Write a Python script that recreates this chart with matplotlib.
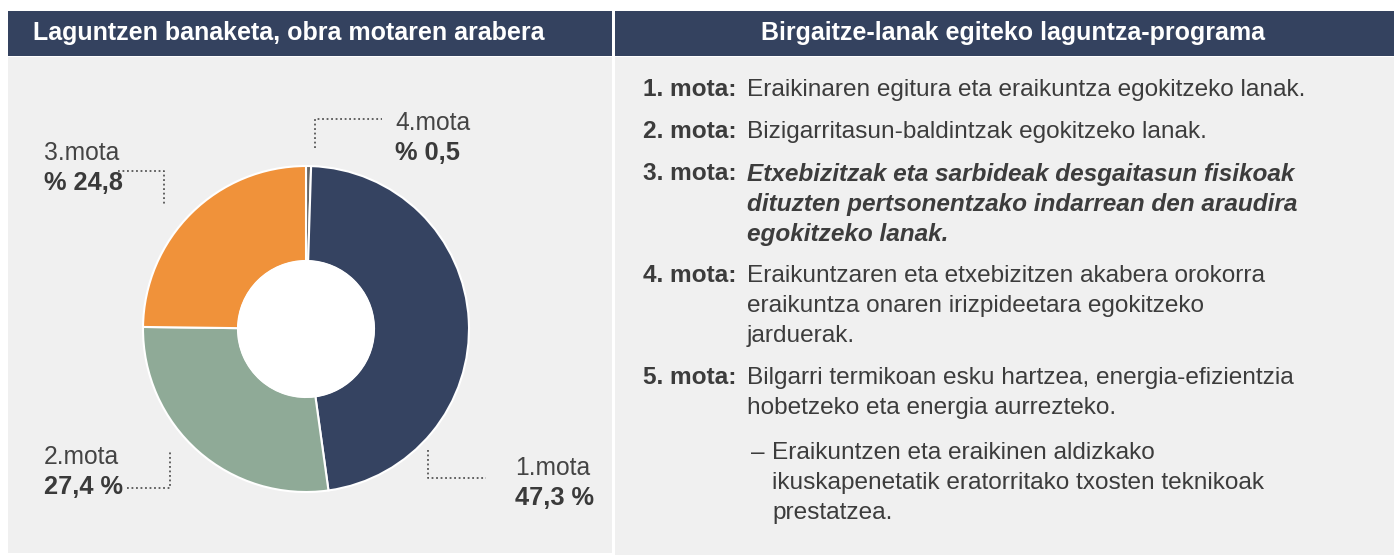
import matplotlib.pyplot as plt
from matplotlib.patches import Rectangle

W, H = 1394, 555

# donut data (clockwise from 12 o'clock)
slices = ['4.mota', '1.mota', '2.mota', '3.mota']
shares = [0.5, 47.3, 27.4, 24.8]
share_labels = ['% 0,5', '47,3 %', '27,4 %', '% 24,8']
colors = ['#666666', '#354361', '#8faa97', '#f0923a']

left_title = 'Laguntzen banaketa, obra motaren arabera'
right_title = 'Birgaitze-lanak egiteko laguntza-programa'

types = ['1. mota:', '2. mota:', '3. mota:', '4. mota:', '5. mota:']
descriptions = [
    ['Eraikinaren egitura eta eraikuntza egokitzeko lanak.'],
    ['Bizigarritasun-baldintzak egokitzeko lanak.'],
    ['Etxebizitzak eta sarbideak desgaitasun fisikoak',
     'dituzten pertsonentzako indarrean den araudira',
     'egokitzeko lanak.'],
    ['Eraikuntzaren eta etxebizitzen akabera orokorra',
     'eraikuntza onaren irizpideetara egokitzeko',
     'jarduerak.'],
    ['Bilgarri termikoan esku hartzea, energia-efizientzia',
     'hobetzeko eta energia aurrezteko.'],
]
sub_item = ['Eraikuntzen eta eraikinen aldizkako',
            'ikuskapenetatik eratorritako txosten teknikoak',
            'prestatzea.']

plt.rcParams['font.family'] = ['Liberation Sans', 'DejaVu Sans']

fig = plt.figure(figsize=(W / 100, H / 100), dpi=100)
ax = fig.add_axes([0, 0, 1, 1])


def Y(py):
    return H - py


navy = '#34425f'
panel = '#f0f0f0'
txt = '#3c3c3c'
body_fs = 17.6

# panels and headers
ax.add_patch(Rectangle((8, Y(553)), 604, 553 - 57, color=panel, lw=0))
ax.add_patch(Rectangle((615, Y(555)), W - 615, 555 - 57, color=panel, lw=0))
ax.add_patch(Rectangle((8, Y(56)), 604, 45, color=navy, lw=0))
ax.add_patch(Rectangle((615, Y(56)), W - 615, 45, color=navy, lw=0))
ax.text(33, Y(33), left_title, color='white', fontsize=18, fontweight='bold',
        va='center', ha='left')
ax.text(1013, Y(33), right_title, color='white', fontsize=18, fontweight='bold',
        va='center', ha='center')

# donut
cx, cy, r_out, r_in = 306, Y(329), 163, 68
ax.pie(shares, colors=colors, startangle=90, counterclock=False,
       center=(cx, cy), radius=r_out,
       wedgeprops=dict(width=r_out - r_in, edgecolor='white', linewidth=1.5))
ax.add_patch(plt.Circle((cx, cy), r_in, color='white', zorder=3))

# labels with dotted leaders
lab_pos = {
    '4.mota': (395, 123, 153),
    '1.mota': (515, 468, 498),
    '2.mota': (44, 457, 487),
    '3.mota': (44, 153, 183),
}
for name, val in zip(slices, share_labels):
    x, y1, y2 = lab_pos[name]
    ax.text(x, Y(y1), name, color='#444444', fontsize=17.7, va='center', ha='left')
    ax.text(x, Y(y2), val, color='#3a3a3a', fontsize=18.3, fontweight='bold',
            va='center', ha='left')

leaders = [
    ([315, 315, 382], [148, 119, 119]),
    ([118, 164, 164], [171, 171, 205]),
    ([127, 170, 170], [488, 488, 450]),
    ([428, 428, 486], [450, 478, 478]),
]
for xs, ys in leaders:
    ax.plot(xs, [Y(v) for v in ys], color='#555555', lw=1.3, ls=(0, (1, 1.5)))

# right-hand list
line_h = 30
y = 90
for t, desc in zip(types, descriptions):
    ax.text(643, Y(y), t, color=txt, fontsize=body_fs, fontweight='bold', va='center')
    italic = t.startswith('3')
    for i, line in enumerate(desc):
        ax.text(747, Y(y + i * line_h), line, color=txt, fontsize=body_fs,
                fontweight='bold' if italic else 'normal',
                fontstyle='italic' if italic else 'normal', va='center')
    y += len(desc) * line_h + 12
y += 3
ax.text(751, Y(y), '\u2013', color=txt, fontsize=body_fs, va='center')
for i, line in enumerate(sub_item):
    ax.text(772, Y(y + i * line_h), line, color=txt, fontsize=body_fs, va='center')

ax.set_xlim(0, W)
ax.set_ylim(0, H)
ax.set_aspect('equal')
ax.axis('off')

fig.savefig('out.png', dpi=100, facecolor='white')
